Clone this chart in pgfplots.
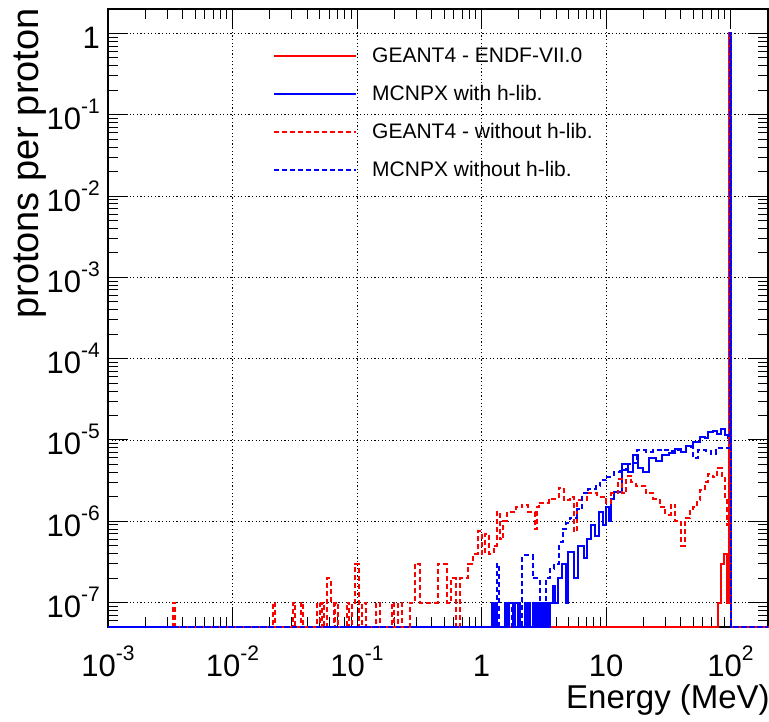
\documentclass[border=0pt]{standalone}
\usepackage{fontspec}
\setmainfont{Liberation Sans}
\usepackage{pgfplots}
\pgfplotsset{compat=1.18}
\newcommand{\tl}[1]{10\raisebox{16pt}{\fontsize{21}{21}\selectfont #1}}
\definecolor{rroot}{RGB}{255,0,0}
\definecolor{broot}{RGB}{0,0,255}
\begin{document}
\begin{tikzpicture}
\begin{axis}[
  scale only axis, width=660pt, height=618pt,
  xmode=log, ymode=log,
  xmin=1e-3, xmax=200, ymin=5e-8, ymax=2,
  clip=false,
  axis line style={black, line width=1.2pt},
  xtick={1e-3,1e-2,1e-1,1,10,100},
  xticklabels={\tl{-3},\tl{-2},\tl{-1},1,10,\tl{2}},
  ytick={1e-7,1e-6,1e-5,1e-4,1e-3,1e-2,1e-1,1},
  yticklabels={\tl{-7},\tl{-6},\tl{-5},\tl{-4},\tl{-3},\tl{-2},\tl{-1},1},
  minor xtick={2e-3,3e-3,4e-3,5e-3,6e-3,7e-3,8e-3,9e-3,2e-2,3e-2,4e-2,5e-2,6e-2,7e-2,8e-2,9e-2,0.2,0.3,0.4,0.5,0.6,0.7,0.8,0.9,2,3,4,5,6,7,8,9,20,30,40,50,60,70,80,90},
  minor ytick={6e-8,7e-8,8e-8,9e-8,2e-7,3e-7,4e-7,5e-7,6e-7,7e-7,8e-7,9e-7,2e-6,3e-6,4e-6,5e-6,6e-6,7e-6,8e-6,9e-6,2e-5,3e-5,4e-5,5e-5,6e-5,7e-5,8e-5,9e-5,2e-4,3e-4,4e-4,5e-4,6e-4,7e-4,8e-4,9e-4,2e-3,3e-3,4e-3,5e-3,6e-3,7e-3,8e-3,9e-3,2e-2,3e-2,4e-2,5e-2,6e-2,7e-2,8e-2,9e-2,0.2,0.3,0.4,0.5,0.6,0.7,0.8,0.9},
  major tick length=20pt, minor tick length=10pt,
  tick style={black, line width=1pt},
  minor tick style={black, line width=1pt},
  tick label style={font=\fontsize{31}{31}\selectfont},
  xticklabel style={anchor=base, inner sep=0pt, yshift=-49pt},
  yticklabel style={anchor=base east, inner sep=0pt, xshift=-8pt, yshift=-15pt},
  grid=major,
  major grid style={black, line width=0.8pt, dash pattern=on 1.2pt off 2.4pt},
  xlabel={Energy (MeV)},
  ylabel={protons per proton},
  x label style={font=\fontsize{33}{33}\selectfont, at={(axis description cs:1.003,-0.132)}, anchor=base east, inner sep=0pt},
  y label style={font=\fontsize{38}{38}\selectfont, at={(axis description cs:-0.106,1.0016)}, rotate=0, anchor=base east, inner sep=0pt},
  legend cell align=left,
  legend image code/.code={\draw[#1] (0pt,7pt) -- (82pt,7pt);},
  legend style={draw=none, fill=none, at={(axis description cs:0.25,0.944)}, anchor=north west,
    inner sep=0pt, row sep=0pt, column sep=15pt,
    nodes={inner sep=0pt, text height=19pt, text depth=19pt},
    font=\fontsize{21}{21}\selectfont},
]
\addplot[const plot, rroot, line width=2pt] coordinates {
(0.001,5e-8) (80,1e-7) (84.5,3e-7) (88,4e-7) (93,1e-7) (97.5,1) (101.5,5e-8) (200,5e-8)};
\addlegendentry{GEANT4 - ENDF-VII.0}
\addplot[const plot, broot, line width=2pt] coordinates {
(0.001,5e-8)
(1.21,1e-7)(1.265,5e-8)(1.28,1e-7)(1.32,5e-8)
(1.53,1e-7)(1.6,5e-8)(1.65,1e-7)(1.78,5e-8)
(1.85,1e-7)(1.95,5e-8)(2.0,1e-7)(2.05,5e-8)
(2.22,1e-7)(2.3,5e-8)(2.35,1e-7)(2.44,5e-8)
(2.58,1e-7)(2.7,5e-8)(2.76,1e-7)(2.85,5e-8)(2.93,1e-7)(3.05,5e-8)(3.12,1e-7)(3.22,5e-8)(3.3,1e-7)(3.42,5e-8)
(3.52,1e-7)(3.73,1.6e-7)(3.9,1e-7)(4.1,2e-7)(4.4,3e-7)(4.75,1e-7)(4.95,4.2e-7)(5.5,2e-7)(6.0,5e-7)(6.6,3.5e-7)(7.0,6e-7)(7.6,9e-7)(8.2,6.5e-7)(8.8,1.3e-6)(9.4,9e-7)(10,1.5e-6)(10.6,1e-6)(11,1.9e-6)(11.6,2.3e-6)(13.5,5e-6)(15,4e-6)(16.5,6.5e-6)(18,4.5e-6)(20,4e-6)(22,6e-6)(25,5.5e-6)(28,6.5e-6)(32,7e-6)(36,7.8e-6)(40,7.2e-6)(44,8.5e-6)(50,9.5e-6)(57,1.1e-5)(62,1.05e-5)(66,1.25e-5)(72,1.3e-5)(78,1.2e-5)(84,1.35e-5)(90,1.15e-5)(95,1.05e-5)(98.6,1)(100.4,5e-8)(200,5e-8)};
\addlegendentry{MCNPX with h-lib.}
\addplot[const plot, rroot, line width=2pt, dash pattern=on 5pt off 3pt] coordinates {
(0.001,5e-8)
(0.0033,1e-7)(0.00345,5e-8)
(0.021,1e-7)(0.0218,5e-8)
(0.0305,1e-7)(0.0318,5e-8)
(0.0355,1e-7)(0.0368,5e-8)
(0.048,1e-7)(0.0505,5e-8)(0.052,1e-7)(0.0545,5e-8)
(0.0575,2e-7)(0.0615,1e-7)(0.065,5e-8)(0.067,1e-7)(0.0705,5e-8)
(0.083,1e-7)(0.087,5e-8)
(0.092,1e-7)(0.097,3e-7)(0.103,5e-8)
(0.11,1e-7)(0.118,5e-8)
(0.143,1e-7)(0.152,5e-8)
(0.19,1e-7)(0.2,5e-8)(0.215,1e-7)(0.228,5e-8)
(0.265,1e-7)(0.29,3e-7)(0.32,1e-7)(0.445,3e-7)(0.53,1e-7)(0.565,2e-7)(0.62,5e-8)(0.67,2e-7)(0.78,3e-7)(0.86,4e-7)(0.93,7.5e-7)(1.0,4e-7)(1.07,7e-7)(1.14,4e-7)(1.25,5e-7)(1.32,1.3e-6)(1.4,6e-7)(1.5,1e-6)(1.6,1.3e-6)(1.9,1.5e-6)(2.1,1.6e-6)(2.35,1.3e-6)(2.7,8e-7)(2.8,1.5e-6)(2.9,1.7e-6)(3.5,1.9e-6)(4.2,2.6e-6)(4.6,1.8e-6)(5.1,2e-6)(5.5,7.5e-7)(5.8,1.8e-6)(7,2.2e-6)(8.5,2e-6)(10,1.7e-6)(11,2.2e-6)(12.5,3.3e-6)(13.5,2.2e-6)(14.6,3.6e-6)(16,3e-6)(17.5,2.7e-6)(21,2.2e-6)(24,1.9e-6)(27,1.5e-6)(30,1.2e-6)(33,1.6e-6)(36,1e-6)(40,5e-7)(43,1.1e-6)(47,1.4e-6)(50,1.5e-6)(54,1.8e-6)(57,2.4e-6)(62,3e-6)(66,3.8e-6)(72,3.5e-6)(78,4.5e-6)(85,3.6e-6)(90,2e-6)(93,9e-7)(98,1)(101,5e-8)(200,5e-8)};
\addlegendentry{GEANT4 - without h-lib.}
\addplot[const plot, broot, line width=2pt, dash pattern=on 5pt off 3pt] coordinates {
(0.001,5e-8)(1.32,3e-7)(1.37,5e-8)(1.53,1e-7)(1.6,5e-8)(1.66,1e-7)(1.75,5e-8)(2.13,3.8e-7)(2.58,2e-7)(2.93,5e-8)(3.3,2e-7)(3.55,2.6e-7)(3.85,3e-7)(4.2,5.5e-7)(4.5,8e-7)(4.8,9.5e-7)(5.1,1.1e-6)(5.8,1.4e-6)(6.4,2.2e-6)(7.2,2.5e-6)(8.3,2.7e-6)(9,3.2e-6)(10,3.5e-6)(11.5,4e-6)(13,4.3e-6)(14.6,5e-6)(16.5,5.2e-6)(17.8,7.5e-6)(21,7.2e-6)(24,7.5e-6)(28,7.6e-6)(33,7.3e-6)(38,7.6e-6)(44,8.3e-6)(50,6e-6)(55,7.5e-6)(64,7.3e-6)(70,6.8e-6)(76,8e-6)(98.6,1)(100.4,5e-8)(200,5e-8)};
\addlegendentry{MCNPX without h-lib.}
\end{axis}
\pgfresetboundingbox
\path[use as bounding box] (-108pt,-94pt) rectangle (661pt,627pt);
\end{tikzpicture}
\end{document}
